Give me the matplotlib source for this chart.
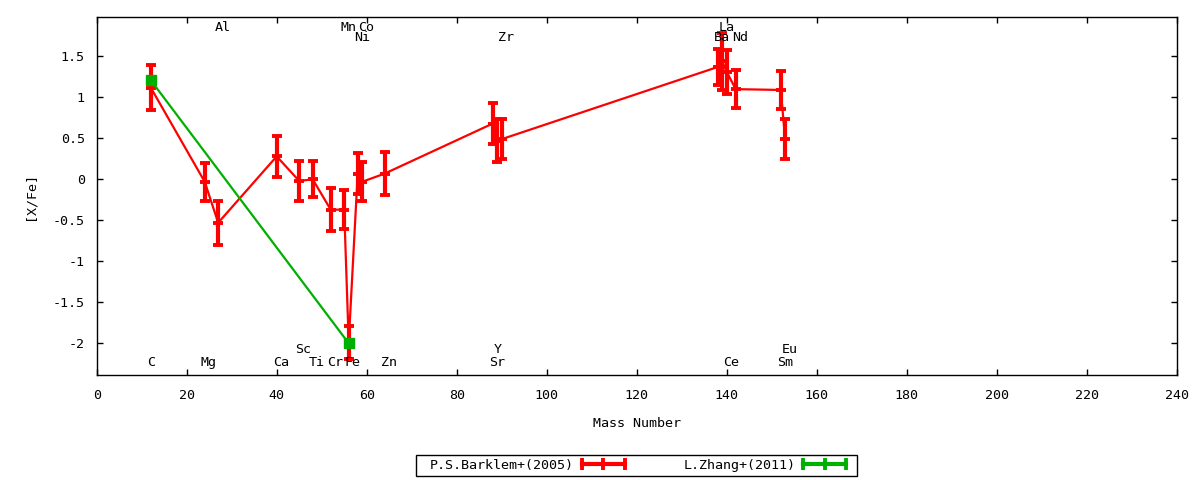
import matplotlib
matplotlib.use("Agg")
import matplotlib.pyplot as plt
from matplotlib.lines import Line2D
from matplotlib.legend_handler import HandlerLine2D
from matplotlib.patches import Rectangle
from matplotlib.ticker import FuncFormatter

# ---- data ----
elements = ['C', 'Mg', 'Al', 'Ca', 'Sc', 'Ti', 'Cr', 'Mn', 'Fe', 'Ni', 'Co', 'Zn',
            'Sr', 'Y', 'Zr', 'Ba', 'La', 'Ce', 'Nd', 'Sm', 'Eu']
mass = [12, 24, 27, 40, 45, 48, 52, 55, 56, 58, 59, 64,
        88, 89, 90, 138, 139, 140, 142, 152, 153]
barklem_xfe = [1.12, -0.03, -0.53, 0.28, -0.02, 0.00, -0.37, -0.37, -1.99, 0.07, -0.03, 0.07,
               0.68, 0.47, 0.49, 1.37, 1.44, 1.31, 1.10, 1.09, 0.49]
barklem_err = [0.28, 0.23, 0.27, 0.25, 0.24, 0.22, 0.26, 0.24, 0.20, 0.25, 0.24, 0.26,
               0.245, 0.26, 0.24, 0.22, 0.35, 0.27, 0.23, 0.235, 0.245]

zhang_mass = [12, 56]
zhang_xfe = [1.21, -2.00]
zhang_err = [0.03, 0.03]

# element label rows (y in data units)
label_rows = {
    1.85: ['Al', 'Mn', 'Co', 'La'],
    1.73: ['Ni', 'Zr', 'Ba', 'Nd'],
    -2.08: ['Sc', 'Y', 'Eu'],
    -2.24: ['C', 'Mg', 'Ca', 'Ti', 'Cr', 'Fe', 'Zn', 'Sr', 'Ce', 'Sm'],
}

xticks = list(range(0, 241, 20))
yticks = [-2, -1.5, -1, -0.5, 0, 0.5, 1, 1.5]

# ---- style ----
plt.rcParams['font.family'] = ['DejaVu Sans Mono']
plt.rcParams['axes.unicode_minus'] = False
FS = 9.6

W, H = 1200, 480
fig = plt.figure(figsize=(W / 100, H / 100), dpi=100)
ax = fig.add_axes([96.7 / W, 1 - 375 / H, 1080 / W, (375 - 17) / H])

ax.errorbar(mass, barklem_xfe, yerr=barklem_err, fmt='-', color='#ff0000', lw=1.6,
            elinewidth=3.0, capsize=3.5, capthick=2.8, marker='_', ms=7, mew=2.8,
            zorder=3)
ax.errorbar(zhang_mass, zhang_xfe, yerr=zhang_err, fmt='-', color='#00b000', lw=1.6,
            elinewidth=3.0, capsize=3.5, capthick=2.8, marker='s', ms=6.5, mew=1,
            zorder=4)

mass_of = dict(zip(elements, mass))
for yv, names in label_rows.items():
    for n in names:
        ax.text(mass_of[n] - 0.85, yv, n, ha='left', va='center', fontsize=FS,
                color='black', zorder=5)

ax.set_xlim(0, 240)
ax.set_ylim(-2.387, 1.98)
ax.set_xticks(xticks)
ax.set_yticks(yticks)
ax.yaxis.set_major_formatter(FuncFormatter(lambda v, p: '%g' % v))
ax.xaxis.set_major_formatter(FuncFormatter(lambda v, p: '%g' % v))
ax.tick_params(axis='both', direction='in', length=4, width=1, labelsize=FS,
               top=True, right=True)
ax.tick_params(axis='x', pad=10)
ax.tick_params(axis='y', pad=8.5)
for s in ax.spines.values():
    s.set_linewidth(1)

ax.set_xlabel('Mass Number', fontsize=FS, labelpad=11)
ax.set_ylabel('[X/Fe]', fontsize=FS, labelpad=12)

handles = [
    Line2D([0], [0], color='#ff0000', lw=3, marker='|', ms=8, mew=2.8),
    Line2D([0], [0], color='#00b000', lw=3, marker='|', ms=8, mew=2.8),
]
labels = ['P.S.Barklem+(2005)', 'L.Zhang+(2011)']
fig.legend(handles, labels, loc='center', bbox_to_anchor=(638 / W, 1 - 465.3 / H),
           ncol=2, markerfirst=False, frameon=False, handlelength=43 / 13.3,
           handletextpad=0.6, columnspacing=4.4, borderpad=0.2,
           prop={'size': FS, 'family': 'DejaVu Sans Mono'},
           handler_map={Line2D: HandlerLine2D(numpoints=3, marker_pad=0)})
fig.patches.append(Rectangle((416 / W, 1 - 475.7 / H), 440.7 / W, 20.7 / H,
                             transform=fig.transFigure, fill=False, ec='black', lw=1))

fig.savefig('out.png', dpi=100)
